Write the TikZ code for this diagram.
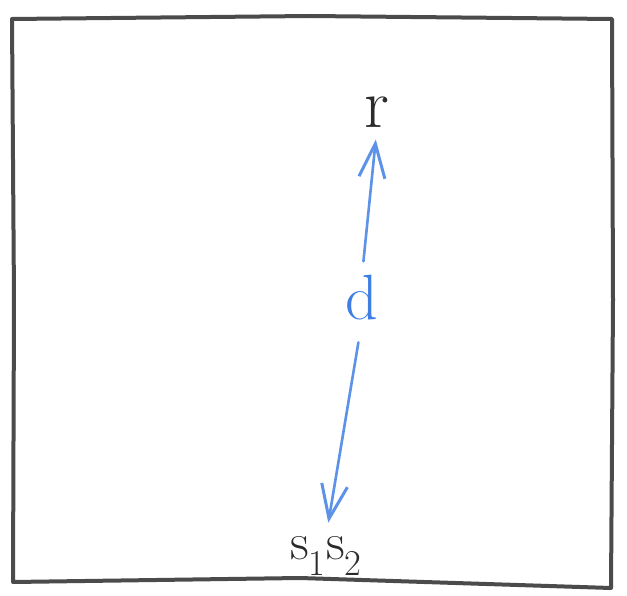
\documentclass[tikz,border=0pt]{standalone}
\usepackage{tikz}
\usetikzlibrary{arrows.meta, positioning}
\definecolor{penBlack}{HTML}{2B2B2B}
\definecolor{penBlue}{HTML}{3F7FE3}

\begin{document}
\begin{tikzpicture}[x=1pt, y=-1pt,
  frame/.style={draw=penBlack!85, line width=4pt, line join=round, line cap=round},
  lbl/.style={font=\fontsize{70}{70}\selectfont, text=penBlack, inner sep=0pt},
  dlbl/.style={font=\fontsize{64}{64}\selectfont, text=penBlue, inner sep=0pt},
  measure/.style={draw=penBlue!85, line width=2.6pt, line cap=round, -{Straight Barb[length=34pt, width=26pt, line width=3pt]}},
]
  \useasboundingbox (0,0) rectangle (627,596);

  % Frame
  \draw[frame] (12,19) -- (310,16) -- (612,19) -- (613,300) -- (611,588) -- (300,578) -- (13,582) -- (14,300) -- cycle;

  % Labels
  \node[lbl] (r) at (377,112) {r};
  \node[dlbl] (d) at (362,298) {d};
  \node[lbl, font=\fontsize{52}{52}\selectfont] (s) at (326,556) {s\textsubscript{1}s\textsubscript{2}};

  % Distance arrows
  \draw[measure, shorten <=14pt, shorten >=12pt] (d.north) -- (r.south);
  \draw[measure, shorten <=22pt, shorten >=14pt] (d.south) -- (s.north);
\end{tikzpicture}
\end{document}
